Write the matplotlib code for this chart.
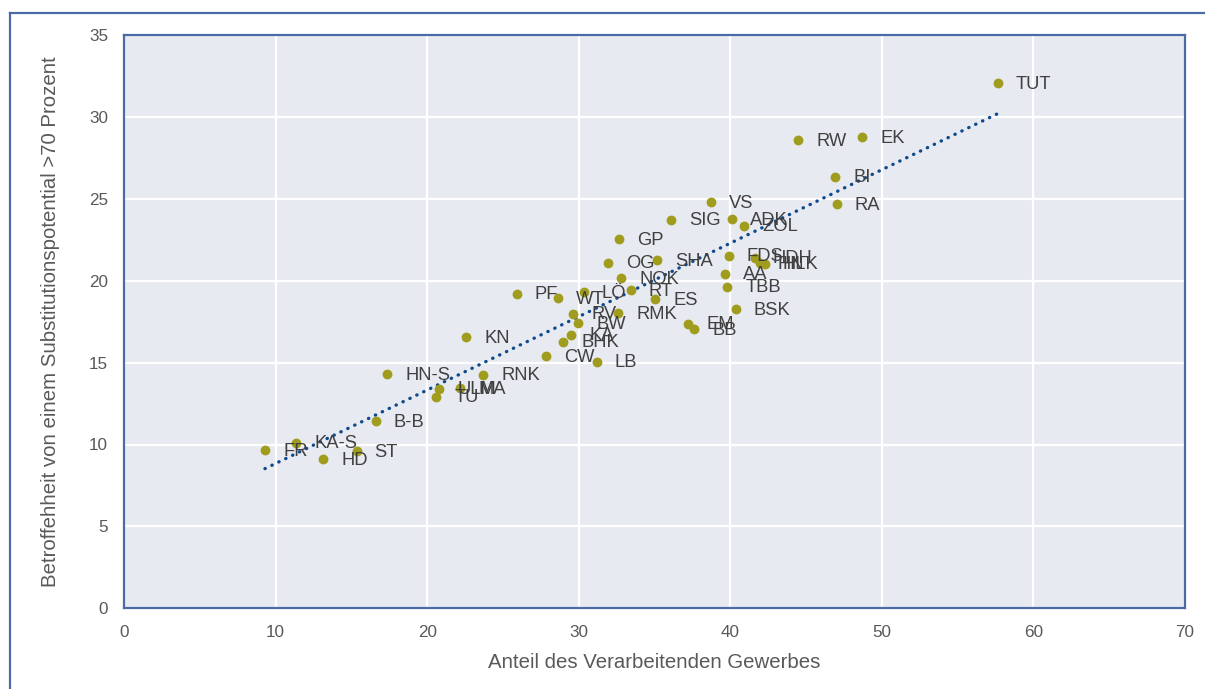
import matplotlib
matplotlib.use("Agg")
import matplotlib.pyplot as plt
from matplotlib.lines import Line2D
import numpy as np

plt.rcParams['font.family'] = ['Liberation Sans', 'DejaVu Sans']

labels = ["TUT", "RW", "EK", "BI", "RA", "VS", "SIG", "ADK", "ZOL", "GP",
          "OG", "SHA", "FDS", "HDH", "HN", "HLK", "NOK", "RT", "AA", "TBB",
          "PF", "WT", "LÖ", "ES", "RV", "RMK", "BW", "KA", "BHK", "CW",
          "LB", "KN", "EM", "BB", "BSK", "HN-S", "RNK", "ULM", "TU", "MA",
          "B-B", "FR", "KA-S", "HD", "ST"]
x_vals = [57.65, 44.5, 48.7, 46.92, 47.01, 38.72, 36.08, 40.13, 40.9, 32.63,
          31.95, 35.16, 39.91, 41.62, 41.95, 42.28, 32.82, 33.42, 39.66, 39.8,
          25.9, 28.61, 30.34, 35.05, 29.64, 32.61, 29.95, 29.49, 28.98, 27.84,
          31.18, 22.56, 37.22, 37.62, 40.35, 17.38, 23.7, 20.8, 20.6, 22.2,
          16.62, 9.3, 11.35, 13.15, 15.35]
y_vals = [32.05, 28.57, 28.77, 26.35, 24.68, 24.79, 23.71, 23.75, 23.36, 22.53,
          21.1, 21.26, 21.53, 21.4, 21.06, 21.02, 20.16, 19.43, 20.41, 19.63,
          19.19, 18.93, 19.29, 18.86, 17.97, 18.01, 17.4, 16.69, 16.28, 15.4,
          15.04, 16.54, 17.36, 17.03, 18.25, 14.3, 14.26, 13.39, 12.9, 13.42,
          11.43, 9.66, 10.11, 9.1, 9.6]

x_ticks = [0, 10, 20, 30, 40, 50, 60, 70]
y_ticks = [0, 5, 10, 15, 20, 25, 30, 35]
x_title = "Anteil des Verarbeitenden Gewerbes"
y_title = "Betroffehheit von einem Substitutionspotential >70 Prozent"

W, H = 1205, 689
fig = plt.figure(figsize=(W / 100, H / 100), dpi=100)
ax = fig.add_axes([124 / W, 1 - 608.3 / H, (1185 - 124) / W, (608.3 - 35) / H])

frame_col = "#4A6BA3"
ax.set_facecolor("#E8EAF1")
for s in ax.spines.values():
    s.set_color(frame_col)
    s.set_linewidth(1.6)

ax.set_xlim(0, 70)
ax.set_ylim(0, 35)
ax.set_xticks(x_ticks)
ax.set_yticks(y_ticks)
ax.grid(True, color="white", linewidth=1.6)
ax.set_axisbelow(True)
ax.tick_params(length=0, labelsize=12.3, colors="#595959", pad=11.5)
ax.tick_params(axis='x', pad=12)

x = np.array(x_vals)
y = np.array(y_vals)
ax.scatter(x, y, s=50, color="#A09C1E", zorder=3, linewidths=0)

coef = np.polyfit(x, y, 1)
xl = np.array([x.min(), x.max()])
ax.plot(xl, np.polyval(coef, xl), color="#0F4A8C", linewidth=2.4,
        linestyle=(0, (0.1, 2.2)), dash_capstyle='round', zorder=2)

for lab, xi, yi in zip(labels, x_vals, y_vals):
    ax.annotate(lab, (xi, yi), xytext=(13, -0.7), textcoords='offset points',
                ha='left', va='center', fontsize=13.2, color="#404040", zorder=4)

ax.set_xlabel(x_title, fontsize=14.7, color="#595959", labelpad=9.5)
ax.set_ylabel(y_title, fontsize=14.7, color="#595959", labelpad=21)

fig.add_artist(Line2D([10 / W, 10 / W], [0, 1 - 13 / H], color=frame_col,
                      linewidth=1.6, transform=fig.transFigure))
fig.add_artist(Line2D([10 / W, 1], [1 - 13 / H, 1 - 13 / H], color=frame_col,
                      linewidth=1.6, transform=fig.transFigure))

fig.savefig("out.png", dpi=100)
